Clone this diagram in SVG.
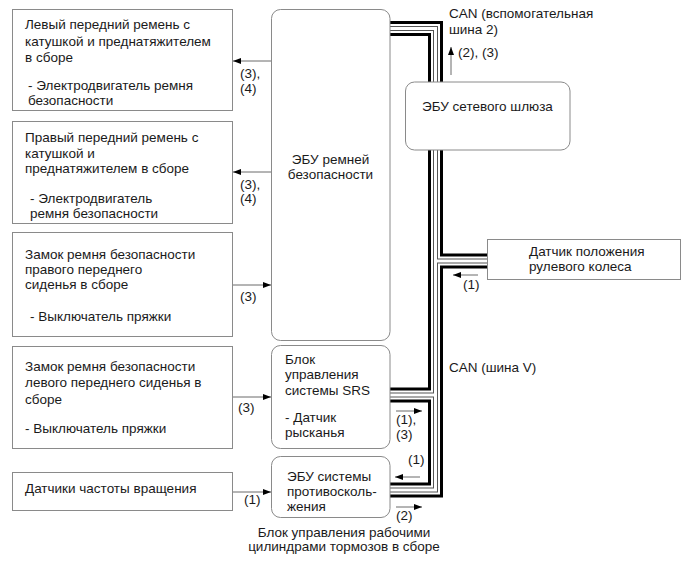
<svg xmlns="http://www.w3.org/2000/svg" width="690" height="562" viewBox="0 0 690 562">
<defs>
<marker id="ah" viewBox="0 0 8 6" refX="8" refY="3" markerWidth="8" markerHeight="6" markerUnits="userSpaceOnUse" orient="auto">
<path d="M0,0 L8,3 L0,6 Z" fill="#000"/>
</marker>
<style>
text{font-family:"Liberation Sans",Arial,sans-serif;font-size:13.5px;fill:#1a1a1a}
.box{fill:#fff;stroke:#8a8a8a;stroke-width:1}
.arr{stroke:#6a6a6a;stroke-width:1;fill:none;marker-end:url(#ah)}
.b1{stroke:#000;stroke-width:15;fill:none}
.b2{stroke:#fff;stroke-width:9;fill:none}
.b3{stroke:#555;stroke-width:5;fill:none}
.b4{stroke:#fff;stroke-width:3;fill:none}
</style>
</defs>
<rect width="690" height="562" fill="#fff"/>
<g id="connectors">
<g id="bus">
<path class="b1" d="M390,28.5 H435.5 V490 H390 M435.5,261 H487 M390,395 H435.5"/>
<path class="b2" d="M390,28.5 H435.5 V490 H390 M435.5,261 H487 M390,395 H435.5"/>
<path class="b3" d="M390,28.5 H435.5 V490 H390 M435.5,261 H487 M390,395 H435.5"/>
<path class="b4" d="M390,28.5 H435.5 V490 H390 M435.5,261 H487 M390,395 H435.5"/>
</g>
<path class="arr" d="M271,61 H233"/>
<path class="arr" d="M271,172 H233"/>
<path class="arr" d="M232,285 H271"/>
<path class="arr" d="M232,397 H271"/>
<path class="arr" d="M232,492 H271"/>
<path class="arr" d="M451,75 V47"/>
<path class="arr" d="M478,275 H453"/>
<path class="arr" d="M396,411 H422"/>
<path class="arr" d="M420,477 H395"/>
<path class="arr" d="M396,507 H422"/>
<text x="240" y="78">(3),</text>
<text x="240" y="93">(4)</text>
<text x="240" y="189">(3),</text>
<text x="240" y="203">(4)</text>
<text x="240" y="301">(3)</text>
<text x="238" y="412">(3)</text>
<text x="244" y="504">(1)</text>
<text x="458" y="57">(2), (3)</text>
<text x="463" y="289">(1)</text>
<text x="396" y="424">(1),</text>
<text x="396" y="439">(3)</text>
<text x="408" y="464">(1)</text>
<text x="396" y="520">(2)</text>
<text x="449" y="18">CAN (вспомогательная</text>
<text x="449" y="34">шина 2)</text>
<text x="449" y="372">CAN (шина V)</text>
</g>
<g id="left-belt">
<rect class="box" x="12.5" y="9.5" width="220" height="101"/>
<text x="25" y="29">Левый передний ремень с</text>
<text x="25" y="45.5">катушкой и преднатяжителем</text>
<text x="25" y="62">в сборе</text>
<text x="28" y="90">- Электродвигатель ремня</text>
<text x="28" y="105">безопасности</text>
</g>
<g id="right-belt">
<rect class="box" x="12.5" y="121.5" width="220" height="102"/>
<text x="25" y="142">Правый передний ремень с</text>
<text x="25" y="157.5">катушкой и</text>
<text x="25" y="173">преднатяжителем в сборе</text>
<text x="30" y="202.5">- Электродвигатель</text>
<text x="30" y="217.5">ремня безопасности</text>
</g>
<g id="right-buckle">
<rect class="box" x="12.5" y="232.5" width="220" height="104"/>
<text x="25" y="259">Замок ремня безопасности</text>
<text x="25" y="274">правого переднего</text>
<text x="25" y="289">сиденья в сборе</text>
<text x="30" y="321">- Выключатель пряжки</text>
</g>
<g id="left-buckle">
<rect class="box" x="12.5" y="346.5" width="220" height="102"/>
<text x="25" y="371">Замок ремня безопасности</text>
<text x="25" y="387">левого переднего сиденья в</text>
<text x="25" y="404">сборе</text>
<text x="25" y="433">- Выключатель пряжки</text>
</g>
<g id="speed-sensors">
<rect class="box" x="12.5" y="472.5" width="220" height="38"/>
<text x="25" y="493">Датчики частоты вращения</text>
</g>
<g id="belt-ecu">
<rect class="box" x="271.5" y="9.5" width="118.5" height="331" rx="9"/>
<text x="330.5" y="164" text-anchor="middle">ЭБУ ремней</text>
<text x="330.5" y="179" text-anchor="middle">безопасности</text>
</g>
<g id="gateway">
<rect class="box" x="405.5" y="82" width="164.5" height="68" rx="9"/>
<text x="422" y="111">ЭБУ сетевого шлюза</text>
</g>
<g id="steering-sensor">
<rect class="box" x="487.5" y="239.5" width="193" height="40"/>
<text x="529" y="256">Датчик положения</text>
<text x="529" y="271">рулевого колеса</text>
</g>
<g id="srs">
<rect class="box" x="271.5" y="345.5" width="118.5" height="103" rx="9"/>
<text x="285" y="364">Блок</text>
<text x="285" y="379">управления</text>
<text x="285" y="395">системы SRS</text>
<text x="285" y="422">- Датчик</text>
<text x="285" y="437">рысканья</text>
</g>
<g id="skid-ecu">
<rect class="box" x="271.5" y="456.5" width="118.5" height="61" rx="9"/>
<text x="287" y="481">ЭБУ системы</text>
<text x="287" y="496">противосколь-</text>
<text x="287" y="511">жения</text>
<text x="344" y="537" text-anchor="middle">Блок управления рабочими</text>
<text x="344" y="551" text-anchor="middle">цилиндрами тормозов в сборе</text>
</g>
</svg>
